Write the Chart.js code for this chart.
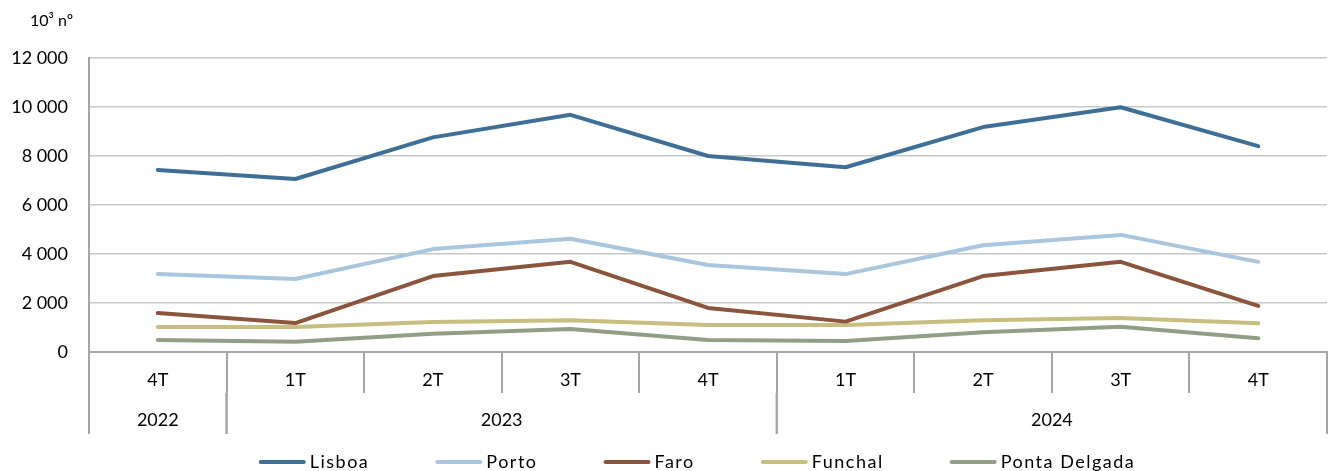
<!DOCTYPE html>
<html>
<head>
<meta charset="utf-8">
<script src="https://cdn.jsdelivr.net/npm/chart.js@4.4.1/dist/chart.umd.min.js"></script>
<style>
  html, body { margin: 0; padding: 0; background: #fff; }
  #wrap { width: 1332px; height: 471px; }
</style>
</head>
<body>
<div id="wrap"><canvas id="chart"></canvas></div>
<script>
// Dados
const quarters = ['4T', '1T', '2T', '3T', '4T', '1T', '2T', '3T', '4T'];
const yearGroups = [
    { label: '2022', from: 0, to: 0 },
    { label: '2023', from: 1, to: 4 },
    { label: '2024', from: 5, to: 8 }
];
const lisboa = [7430, 7060, 8760, 9680, 8000, 7540, 9180, 9990, 8400];
const porto = [3180, 2980, 4200, 4620, 3550, 3180, 4360, 4780, 3680];
const faro = [1590, 1180, 3100, 3680, 1800, 1240, 3100, 3680, 1880];
const funchal = [1020, 1020, 1220, 1300, 1100, 1100, 1300, 1390, 1170];
const pontaDelgada = [490, 420, 740, 940, 490, 450, 810, 1030, 560];
const yTicks = [0, 2000, 4000, 6000, 8000, 10000, 12000];

const seriesNames = ['Lisboa', 'Porto', 'Faro', 'Funchal', 'Ponta Delgada'];
const seriesData = [lisboa, porto, faro, funchal, pontaDelgada];
const seriesColors = ['#3f6e97', '#a9c6de', '#8b543c', '#c7be80', '#919f87'];

const FONT = 'Lato, "Open Sans", sans-serif';

// Linha de anos, unidade e legenda
const extrasPlugin = {
    id: 'extras',
    afterDraw(chart) {
        const ctx = chart.ctx;
        const x = chart.scales.x;
        const half = (x.getPixelForValue(1) - x.getPixelForValue(0)) / 2;
        const top = x.top + 41;
        const bottom = x.top + 82;
        ctx.save();
        ctx.strokeStyle = '#a6a6a6';
        ctx.lineWidth = 2;
        ctx.font = '18px ' + FONT;
        ctx.fillStyle = '#000';
        ctx.textAlign = 'center';
        ctx.textBaseline = 'middle';
        yearGroups.forEach(g => {
            const left = x.getPixelForValue(g.from) - half;
            const right = x.getPixelForValue(g.to) + half;
            [left, right].forEach(px => {
                ctx.beginPath();
                ctx.moveTo(px, top);
                ctx.lineTo(px, bottom);
                ctx.stroke();
            });
            ctx.fillText(g.label, (left + right) / 2, x.top + 68);
        });

        // unidade
        ctx.textAlign = 'left';
        ctx.font = '16px ' + FONT;
        ctx.fillText('10³ nº', 30, 21);

        // legenda
        ctx.font = '18px ' + FONT;
        ctx.letterSpacing = '1.5px';
        const lineW = 47, textGap = 4, itemGap = 66;
        const items = chart.data.datasets.map(ds => ({
            label: ds.label,
            color: ds.borderColor,
            w: lineW + textGap + ctx.measureText(ds.label).width
        }));
        const total = items.reduce((s, it) => s + it.w, 0) + itemGap * (items.length - 1);
        let cx = 697 - total / 2;
        const ly = 462;
        ctx.lineCap = 'round';
        ctx.lineWidth = 4;
        items.forEach(it => {
            ctx.strokeStyle = it.color;
            ctx.beginPath();
            ctx.moveTo(cx + 2, ly);
            ctx.lineTo(cx + lineW - 2, ly);
            ctx.stroke();
            ctx.fillText(it.label, cx + lineW + textGap, ly);
            cx += it.w + itemGap;
        });
        ctx.restore();
    }
};

const ctx = document.getElementById('chart').getContext('2d');
const chart = new Chart(ctx, {
    type: 'line',
    data: {
        labels: quarters,
        datasets: seriesNames.map((name, i) => ({
            label: name,
            data: seriesData[i],
            borderColor: seriesColors[i],
            backgroundColor: seriesColors[i],
            borderWidth: 4,
            borderCapStyle: 'round',
            borderJoinStyle: 'round',
            pointRadius: 0,
            tension: 0
        }))
    },
    options: {
        responsive: true,
        maintainAspectRatio: false,
        animation: false,
        layout: {
            padding: { top: 58, left: 0, right: 5, bottom: 0 }
        },
        scales: {
            x: {
                offset: true,
                grid: {
                    offset: true,
                    drawOnChartArea: false,
                    tickLength: 41,
                    color: '#a6a6a6',
                    lineWidth: 2
                },
                border: { color: '#a6a6a6', width: 2 },
                ticks: {
                    padding: -24,
                    color: '#000',
                    font: { family: FONT, size: 18 },
                    maxRotation: 0
                },
                afterFit(scale) {
                    scale.height = 119;
                }
            },
            y: {
                min: 0,
                max: 12000,
                afterBuildTicks(scale) {
                    scale.ticks = yTicks.map(v => ({ value: v }));
                },
                afterFit(scale) {
                    scale.width = 89;
                },
                grid: {
                    drawTicks: false,
                    color: '#c8c8c8',
                    lineWidth: 1.5
                },
                border: { color: '#a6a6a6', width: 2 },
                ticks: {
                    padding: 21,
                    color: '#000',
                    font: { family: FONT, size: 18 },
                    callback: v => v.toString().replace(/\B(?=(\d{3})+(?!\d))/g, ' ')
                }
            }
        },
        plugins: {
            legend: { display: false },
            tooltip: { enabled: false }
        }
    },
    plugins: [extrasPlugin]
});
</script>
</body>
</html>
